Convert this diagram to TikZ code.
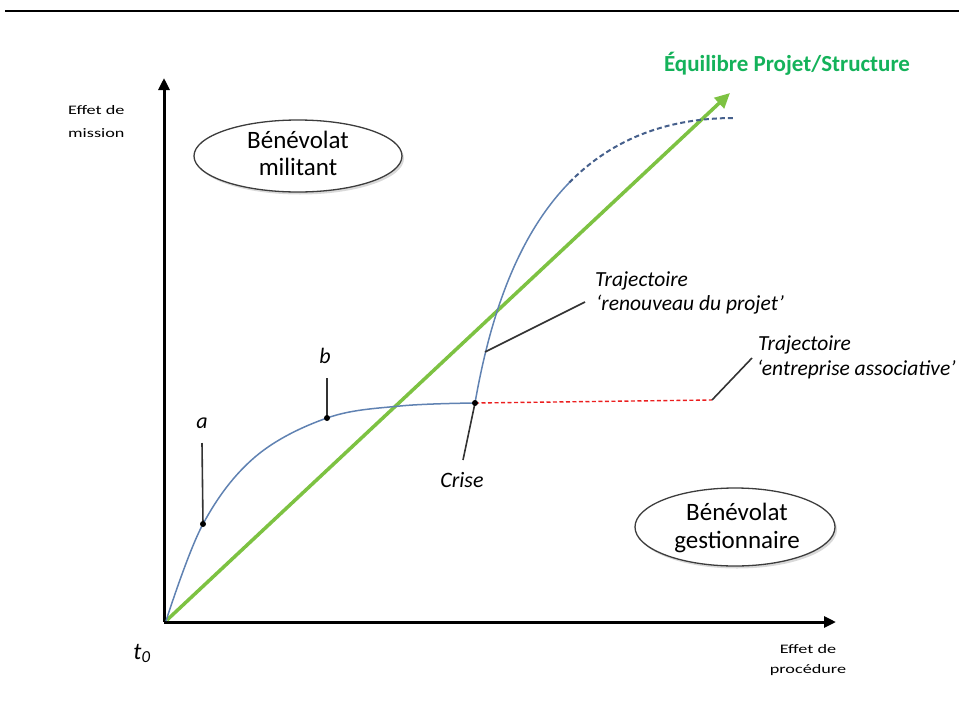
\documentclass[tikz,border=0pt]{standalone}
\usepackage{fontspec}
\usepackage{graphicx}
\setmainfont{Carlito}
\usetikzlibrary{arrows.meta,shapes.geometric,shadows}
\definecolor{lgreen}{RGB}{125,194,66}
\definecolor{tgreen}{RGB}{20,178,90}
\definecolor{cblue}{RGB}{96,130,178}
\definecolor{dblue}{RGB}{70,96,140}
\definecolor{ered}{RGB}{235,30,30}
\definecolor{egray}{RGB}{60,60,60}
\newcommand{\fs}[1]{\fontsize{#1}{#1}\selectfont}
\newcommand{\wideaxis}[1]{\scalebox{1.4}[1]{#1}}
\begin{document}
\begin{tikzpicture}[x=1pt,y=-1pt,
  axisline/.style={line width=3pt,-{Triangle[length=12pt,width=11pt]}},
  greenarrow/.style={lgreen,line width=3.5pt,-{Triangle[length=15pt,width=14pt]}},
  blueline/.style={cblue,line width=1.5pt},
  bluedash/.style={dblue,line width=2pt,dash pattern=on 5pt off 3pt},
  reddash/.style={ered,line width=1.4pt,dash pattern=on 4pt off 2.5pt},
  annot/.style={black!80,line width=1.6pt},
  dotpt/.style={circle,fill=black,inner sep=0pt,minimum size=6pt},
  zone/.style={ellipse,draw=egray,line width=1.3pt,fill=white,align=center,inner sep=0pt,
     drop shadow={shadow xshift=2pt,shadow yshift=-2.5pt,opacity=0.3}},
  lbl/.style={inner sep=0pt,font=\fs{21.5}\itshape}
]
\useasboundingbox (0,0) rectangle (959,726);
% top rule
\coordinate (rl) at (5,11);
\coordinate (rr) at (959,11);
\draw[line width=2pt] (rl) -- (rr);
% axes
\coordinate (O) at (164,622);
\coordinate (Ytip) at (164,78);
\coordinate (Xtip) at (836,622);
\draw[axisline] (O) -- (Ytip);
\draw[axisline] (O) -- (Xtip);
% green equilibrium
\coordinate (G0) at (167,620);
\coordinate (G1) at (730,93);
\draw[greenarrow] (G0) -- (G1);
\node[tgreen,font=\fs{23}\bfseries,anchor=base,inner sep=0pt] (eq) at (787,71) {Équilibre Projet/Structure};
% points
\coordinate (A) at (203,524);
\coordinate (B) at (327,418);
\coordinate (C) at (475,403);
\coordinate (E) at (712,400);
\coordinate (J) at (569.2,182.7);
\coordinate (F) at (734,118);
% blue curve
\draw[blueline] plot[smooth,tension=0.6] coordinates {(166,621) (203,524) (255,457) (327,418) (400,406) (475,403)};
\draw[blueline] (C) .. controls (489.5,320.06) and (515.77,237.46) .. (J);
\draw[bluedash] (J) .. controls (607.95,143.05) and (660.92,118) .. (F);
% red dashed
\draw[reddash] (C) -- (E);
% annotations
\coordinate (aTop) at (202,443);
\coordinate (bTop) at (327,378);
\coordinate (cBot) at (463,460);
\coordinate (R0) at (485,352);
\coordinate (R1) at (585,302);
\coordinate (E1) at (752,358);
\draw[annot] (A) -- (aTop);
\draw[annot] (B) -- (bTop);
\draw[annot] (C) -- (cBot);
\draw[annot] (R0) -- (R1);
\draw[annot] (E) -- (E1);
\node[dotpt] (Ad) at (A) {};
\node[dotpt] (Bd) at (B) {};
\node[dotpt] (Cd) at (C) {};
\node[lbl,font=\fs{22}\itshape] (la) at (202,423) {a};
\node[lbl,font=\fs{22}\itshape] (lb) at (325,356) {b};
\node[lbl,font=\fs{22}\itshape,anchor=base] (lc) at (462,487) {Crise};
\node[lbl,anchor=base west] (r1) at (595,286) {Trajectoire};
\node[lbl,anchor=base west] (r2) at (596,310) {‘renouveau du projet’};
\node[lbl,anchor=base west] (e1) at (758,350) {Trajectoire};
\node[lbl,anchor=base west] (e2) at (757,375) {‘entreprise associative’};
% zones
\node[zone,minimum width=208pt,minimum height=72pt] (mil) at (298,156) {};
\node[font=\fs{25},anchor=base] (mil1) at (298,148) {Bénévolat};
\node[font=\fs{25},anchor=base] (mil2) at (298,175) {militant};
\node[zone,minimum width=200pt,minimum height=78pt] (ges) at (735,527) {};
\node[font=\fs{25},anchor=base] (ges1) at (737,520) {Bénévolat};
\node[font=\fs{25},anchor=base] (ges2) at (737,548) {gestionnaire};
% axis labels
\node[font=\fs{13},anchor=base west,inner sep=0pt] (ym1) at (68,114) {\wideaxis{Effet de}};
\node[font=\fs{13},anchor=base west,inner sep=0pt] (ym2) at (68,137) {\wideaxis{mission}};
\node[font=\fs{13},anchor=base,inner sep=0pt] (xp1) at (808,653) {\wideaxis{Effet de}};
\node[font=\fs{13},anchor=base,inner sep=0pt] (xp2) at (808,673) {\wideaxis{procédure}};
\node[font=\fs{24}\itshape,anchor=base,inner sep=0pt] (t0) at (142,659) {t\textsubscript{0}};
\end{tikzpicture}
\end{document}
